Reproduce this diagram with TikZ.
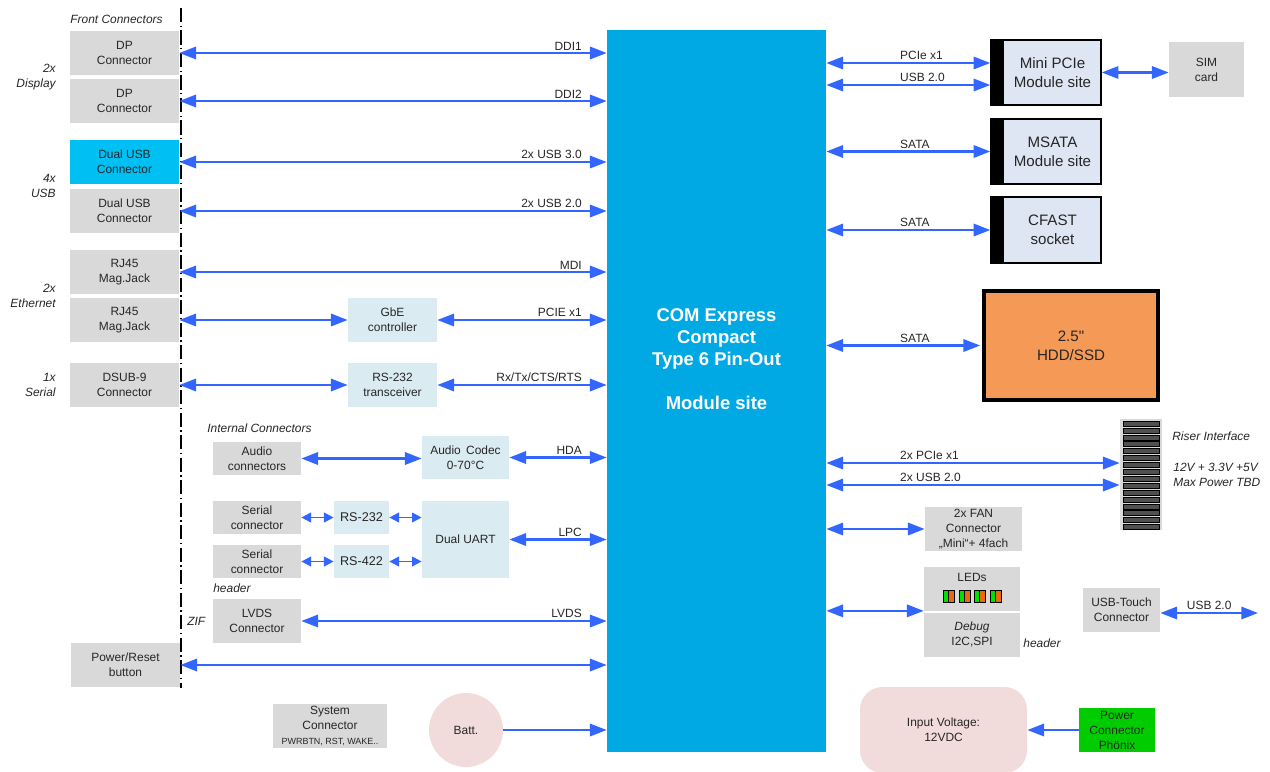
\documentclass[tikz,border=0pt]{standalone}
\usepackage{fontspec}
\setmainfont{Liberation Sans}
\usepackage{tikz}
\usetikzlibrary{arrows.meta}
\definecolor{boxgray}{HTML}{D9D9D9}
\definecolor{chipblue}{HTML}{DBEBF2}
\definecolor{modblue}{HTML}{00A9E3}
\definecolor{usbcyan}{HTML}{00BFF3}
\definecolor{sitefill}{HTML}{DDE6F2}
\definecolor{hddorange}{HTML}{F59A56}
\definecolor{battpink}{HTML}{F2DCDB}
\definecolor{phxgreen}{HTML}{00CC00}
\definecolor{linkblue}{HTML}{3366FF}
\definecolor{slotgray}{HTML}{505050}
\definecolor{ledgreen}{HTML}{00E000}
\definecolor{ledorange}{HTML}{E86A10}
\definecolor{txtgray}{HTML}{262626}
\newcommand\sitepad{\hspace*{0.26cm}}

\begin{document}
\begin{tikzpicture}[x=0.02cm, y=-0.02cm,
    every node/.style={font=\fontsize{6.8}{8.5}\selectfont, text=txtgray},
    conn/.style={fill=boxgray, align=center, inner sep=0pt, minimum width=2.18cm, minimum height=0.88cm},
    chip/.style={fill=chipblue, align=center, inner sep=0pt, minimum width=1.76cm, minimum height=0.88cm},
    site/.style={draw=black, line width=0.8pt, fill=sitefill, align=center, inner sep=0pt,
        minimum width=2.2cm, minimum height=1.3cm, font=\fontsize{8.6}{10.8}\selectfont,
        path picture={\fill[black] (path picture bounding box.south west) rectangle ([xshift=0.26cm]path picture bounding box.north west);}},
    note/.style={font=\fontsize{6.8}{8.5}\selectfont\itshape, inner sep=0pt},
    side/.style={note, align=right, anchor=east},
    link/.style={draw=linkblue, line width=1.3pt, >={Triangle[length=9.5pt,width=7pt]}, <->},
    link1/.style={link, ->},
    slink/.style={link, line width=1pt, >={Triangle[length=5.5pt,width=5.5pt]}},
    ltag/.style={anchor=south east, inner sep=1pt, xshift=-0.44cm},
    rtag/.style={anchor=south west, inner sep=1pt, pos=0, xshift=1.42cm}]
    \useasboundingbox (0,0) rectangle (1270,771);

    % Module
    \node[fill=modblue, minimum width=4.38cm, minimum height=14.44cm, inner sep=0pt] (com) at (716.5,391) {};
    \node[font=\fontsize{10.5}{12.5}\selectfont\bfseries, text=white, align=center] at (716.5,359)
        {COM Express\\Compact\\Type 6 Pin-Out\\[12.5pt]Module site};

    % Front connectors
    \draw[line width=0.9pt, dash pattern=on 8pt off 2pt on 0.8pt off 2pt] (181,8) -- (181,688);
    \node[note, anchor=west] at (70,19) {Front Connectors};
    \node[conn] (dp1) at (124.5,53) {DP\\Connector};
    \node[conn] (dp2) at (124.5,101) {DP\\Connector};
    \node[conn, fill=usbcyan] (usb3) at (124.5,162) {Dual USB\\Connector};
    \node[conn] (usb2) at (124.5,211) {Dual USB\\Connector};
    \node[conn] (rj1) at (124.5,272) {RJ45\\Mag.Jack};
    \node[conn] (rj2) at (124.5,320) {RJ45\\Mag.Jack};
    \node[conn] (dsub) at (124.5,385) {DSUB-9\\Connector};
    \node[conn] (pwr) at (125.5,665) {Power/Reset\\button};
    \node[side] at (56,77) {2x\\Display};
    \node[side] at (56,186) {4x\\USB};
    \node[side] at (56,296) {2x\\Ethernet};
    \node[side] at (56,385) {1x\\Serial};

    % Controllers
    \node[chip, minimum width=1.78cm] (gbe) at (392.5,320) {GbE\\controller};
    \node[chip, minimum width=1.78cm] (xcvr) at (392.5,385) {RS-232\\transceiver};
    \node[chip, minimum width=1.74cm, minimum height=0.86cm] (codec) at (465.5,457.5) {Audio\, Codec\\0-70°C};
    \node[chip, minimum width=1.1cm, minimum height=0.66cm, font=\fontsize{7.2}{8.5}\selectfont] (rsa) at (361.5,517.5) {RS-232};
    \node[chip, minimum width=1.1cm, minimum height=0.66cm, font=\fontsize{7.2}{8.5}\selectfont] (rsb) at (361.5,561.5) {RS-422};
    \node[chip, minimum width=1.74cm, minimum height=1.54cm] (uart) at (465.5,539.5) {Dual UART};

    % Internal connectors
    \node[note, anchor=west] at (207,428) {Internal Connectors};
    \node[conn, minimum width=1.76cm, minimum height=0.66cm] (audio) at (257,458.5) {Audio\\connectors};
    \node[conn, minimum width=1.76cm, minimum height=0.66cm] (ser1) at (257,517.5) {Serial\\connector};
    \node[conn, minimum width=1.76cm, minimum height=0.66cm] (ser2) at (257,561.5) {Serial\\connector};
    \node[note, anchor=west] at (213,588) {header};
    \node[note, anchor=west] at (187,621) {ZIF};
    \node[conn, minimum width=1.76cm] (lvds) at (257,621) {LVDS\\Connector};
    \node[conn, minimum width=2.28cm, minimum height=0.88cm] (sysc) at (330,726)
        {System\\Connector\\{\fontsize{5.1}{6}\selectfont PWRBTN, RST, WAKE..}};
    \node[circle, fill=battpink, minimum size=1.48cm, inner sep=0pt] (batt) at (466,730) {Batt.};

    % Left links
    \draw[link] (dp1.east) -- (dp1.east -| com.west) node[ltag] {DDI1};
    \draw[link] (dp2.east) -- (dp2.east -| com.west) node[ltag] {DDI2};
    \draw[link] (usb3.east) -- (usb3.east -| com.west) node[ltag] {2x USB 3.0};
    \draw[link] (usb2.east) -- (usb2.east -| com.west) node[ltag] {2x USB 2.0};
    \draw[link] (rj1.east) -- (rj1.east -| com.west) node[ltag] {MDI};
    \draw[link] (rj2.east) -- (gbe.west);
    \draw[link] (gbe.east) -- (gbe.east -| com.west) node[ltag] {PCIE x1};
    \draw[link] (dsub.east) -- (xcvr.west);
    \draw[link] (xcvr.east) -- (xcvr.east -| com.west) node[ltag] {Rx/Tx/CTS/RTS};
    \draw[link] (audio.east) -- (codec.west |- audio.east);
    \draw[link] (codec.east) -- (codec.east -| com.west) node[ltag] {HDA};
    \draw[slink] (ser1.east) -- (rsa.west);
    \draw[slink] (ser2.east) -- (rsb.west);
    \draw[slink] (rsa.east) -- (rsa.east -| uart.west);
    \draw[slink] (rsb.east) -- (rsb.east -| uart.west);
    \draw[link] (uart.east) -- (uart.east -| com.west) node[ltag] {LPC};
    \draw[link] (lvds.east) -- (lvds.east -| com.west) node[ltag] {LVDS};
    \draw[link] (pwr.east) -- (pwr.east -| com.west);
    \draw[link1] (batt.east) -- (batt.east -| com.west);

    % Right side
    \node[site] (mpcie) at (1046,72.5) {\sitepad Mini PCIe\\\sitepad Module site};
    \node[site] (msata) at (1046,151.5) {\sitepad MSATA\\\sitepad Module site};
    \node[site, minimum height=1.32cm] (cfast) at (1046,230) {\sitepad CFAST\\\sitepad socket};
    \node[conn, minimum width=1.5cm, minimum height=1.1cm] (sim) at (1206.5,69.5) {SIM\\card};
    \node[draw=black, line width=2.2pt, fill=hddorange, minimum width=3.48cm, minimum height=2.18cm,
        align=center, font=\fontsize{8.6}{10.8}\selectfont] (hdd) at (1071,345.5) {2.5{\addfontfeatures{Ligatures=TeXOff}"}\\HDD/SSD};
    \node[fill=boxgray, minimum width=0.84cm, minimum height=2.22cm, inner sep=0pt] (riser) at (1141,474.5) {};
    \foreach \i in {0,...,15}
        \draw[fill=slotgray, line width=0.3pt] (1123,421+6.9*\i) rectangle (1159,426+6.9*\i);
    \node[note, anchor=west] at (1172,436) {Riser Interface};
    \node[note, anchor=west, align=left] at (1173,475) {12V + 3.3V +5V\\Max Power TBD};
    \node[conn, minimum width=1.94cm] (fan) at (973.5,529) {2x FAN\\Connector\\„Mini“+ 4fach};
    \node[conn, minimum width=1.92cm] (leds) at (972,588.5) {};
    \node at (972,577) {LEDs};
    \foreach \x in {943,959,974,990} {
        \fill[ledgreen] (\x,590) rectangle (\x+5,602);
        \fill[ledorange] (\x+5,590) rectangle (\x+11,602);
        \draw[line width=0.5pt] (\x,590) rectangle (\x+11,602) (\x+5,590) -- (\x+5,602);
    }
    \node[conn, minimum width=1.92cm] (dbg) at (972,634.5) {\textit{Debug}\\I2C,SPI};
    \node[note, anchor=west] at (1023,643) {header};
    \node[conn, minimum width=1.54cm] (usbt) at (1121.5,610) {USB-Touch\\Connector};
    \coordinate (usbend) at (1258,613);
    \node[fill=battpink, rounded corners=0.45cm, minimum width=3.34cm, minimum height=1.72cm, align=center] (vin) at (943.5,730) {Input Voltage:\\12VDC};
    \node[fill=phxgreen, minimum width=1.52cm, minimum height=0.88cm, inner sep=0pt, align=center] (phx) at (1117,730) {Power\\Connector\\Phönix};

    % Right links
    \path ([yshift=0.19cm]mpcie.west) coordinate (mp1) ([yshift=-0.25cm]mpcie.west) coordinate (mp2);
    \path ([yshift=0.23cm]riser.west) coordinate (rs1) ([yshift=-0.21cm]riser.west) coordinate (rs2);
    \draw[link] (com.east |- mp1) -- (mp1) node[rtag] {PCIe x1};
    \draw[link] (com.east |- mp2) -- (mp2) node[rtag] {USB 2.0};
    \draw[link] (mpcie.east) -- (sim.west |- mpcie.east);
    \draw[link] (com.east |- msata.west) -- (msata.west) node[rtag] {SATA};
    \draw[link] (com.east |- cfast.west) -- (cfast.west) node[rtag] {SATA};
    \draw[link] (com.east |- hdd.west) -- ([xshift=-1.1pt]hdd.west) node[rtag] {SATA};
    \draw[link] (com.east |- rs1) -- (rs1) node[rtag] {2x PCIe x1};
    \draw[link] (com.east |- rs2) -- (rs2) node[rtag] {2x USB 2.0};
    \draw[link] (com.east |- fan.west) -- (fan.west);
    \draw[link] (com.east |- leds.south west) -- (leds.south west);
    \draw[link] (usbt.east |- usbend) -- (usbend) node[midway, above, inner sep=1pt] {USB 2.0};
    \draw[link1] (phx.west) -- (vin.east);
\end{tikzpicture}
\end{document}
